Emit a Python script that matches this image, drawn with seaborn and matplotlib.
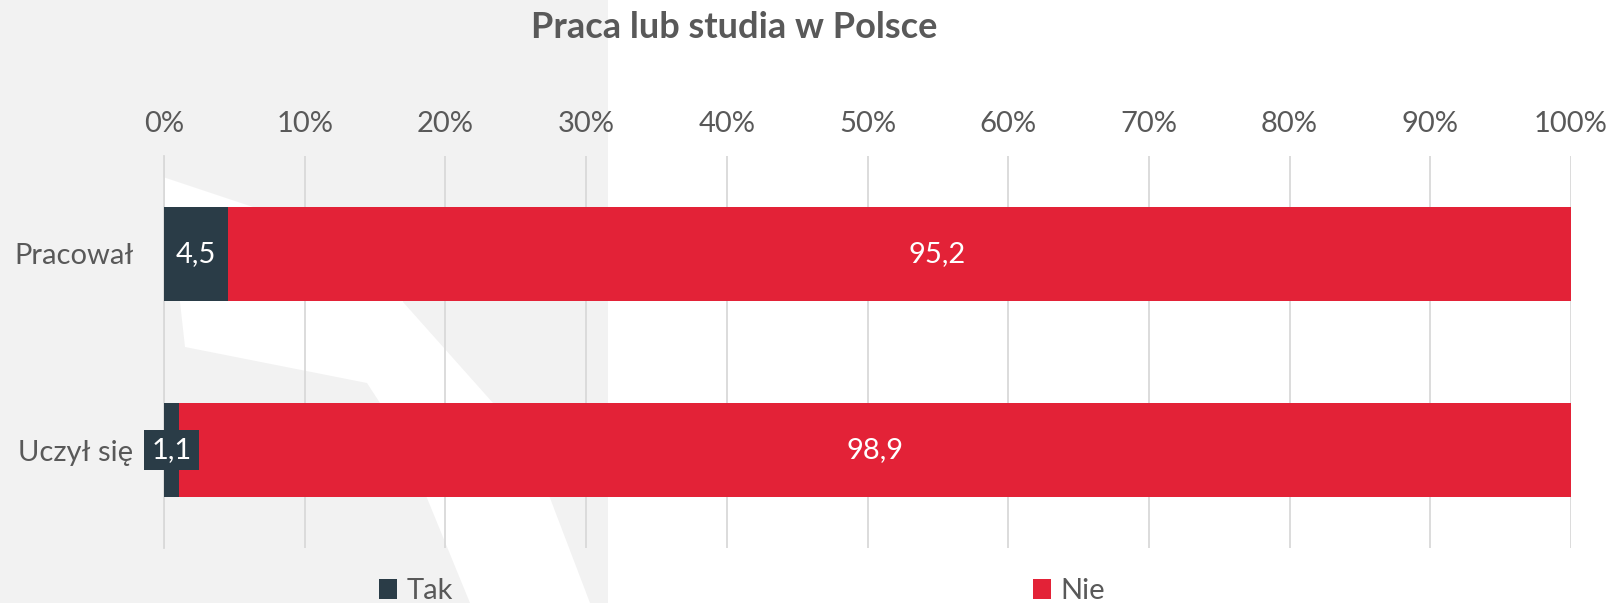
import numpy as np
import pandas as pd
import seaborn as sns
import matplotlib
matplotlib.use("Agg")
import matplotlib.pyplot as plt
from matplotlib.patches import Polygon, Rectangle, Patch

# ---- data ----
categories = ["Pracował", "Uczył się"]
tak_values = [4.5, 1.1]
nie_values = [95.2, 98.9]
series_names = ["Tak", "Nie"]
xtick_values = [0, 10, 20, 30, 40, 50, 60, 70, 80, 90, 100]
xtick_labels = ["0%", "10%", "20%", "30%", "40%", "50%", "60%", "70%", "80%", "90%", "100%"]
title = "Praca lub studia w Polsce"

# ---- styling ----
DARK = "#2A3C47"
RED = "#E32237"
TEXT = "#595959"
GRID = "#D9D9D9"
BG_GREY = "#F2F2F2"
FS = 21

W, H = 1607, 603

sns.set_theme(style="white")
plt.rcParams['font.family'] = ['Lato', 'DejaVu Sans']

tak = np.array(tak_values)
nie = np.array(nie_values)
total = tak + nie
tak_pct = tak / total * 100
nie_pct = nie / total * 100

df = pd.DataFrame({"cat": categories, "tak": tak_pct, "full": tak_pct + nie_pct})

fig = plt.figure(figsize=(W / 100, H / 100), dpi=100, facecolor="white")

def fx(px):
    return px / W

def fy(py):
    return 1 - py / H

# background watermark decoration
grey = Rectangle((0, 0), fx(608), 1, transform=fig.transFigure, facecolor=BG_GREY,
                 edgecolor="none", zorder=-2)
fig.add_artist(grey)
white_pts = [(163, 177), (403, 257), (403, 302), (493, 403), (550, 498), (590, 603),
             (470, 603), (427, 498), (380, 403), (367, 383), (185, 347), (180, 302),
             (163, 200)]
white_poly = Polygon([(fx(x), fy(y)) for x, y in white_pts], closed=True,
                     transform=fig.transFigure, facecolor="white", edgecolor="none",
                     zorder=-1)
fig.add_artist(white_poly)

ax = fig.add_axes([fx(164), fy(548), fx(1571 - 164), (548 - 156) / H])
ax.set_facecolor("none")

sns.barplot(data=df, y="cat", x="full", color=RED, width=0.48, saturation=1,
            edgecolor="none", linewidth=0, ax=ax, zorder=3)
sns.barplot(data=df, y="cat", x="tak", color=DARK, width=0.48, saturation=1,
            edgecolor="none", linewidth=0, ax=ax, zorder=3)

ax.set_xlim(0, 100)
ax.set_ylim(1.5, -0.5)
ax.set_xlabel("")
ax.set_ylabel("")

ax.xaxis.tick_top()
ax.set_xticks(xtick_values)
ax.set_xticklabels(xtick_labels)
ax.tick_params(axis="x", length=0, pad=14, labelsize=FS, labelcolor=TEXT)
ax.xaxis.grid(True, color=GRID, linewidth=1.3)
ax.yaxis.grid(False)
ax.set_axisbelow(True)

ax.set_yticks(range(len(categories)))
ax.set_yticklabels(categories)
ax.tick_params(axis="y", which="major", length=0, pad=22, labelsize=FS, labelcolor=TEXT)
ax.set_yticks([-0.5, 0.5, 1.5], minor=True)
ax.tick_params(axis="y", which="minor", length=6.5, width=1.3, color=GRID)

for side in ["top", "right", "bottom"]:
    ax.spines[side].set_visible(False)
ax.spines["left"].set_color(GRID)
ax.spines["left"].set_linewidth(1.3)

def fmt(v):
    return f"{v:.1f}".replace(".", ",")

for i in range(len(categories)):
    # Tak label
    kw = dict(ha="center", va="center", color="white", fontsize=FS, zorder=5)
    if tak_pct[i] < 2:
        kw["bbox"] = dict(boxstyle="square,pad=0.25", facecolor=DARK, edgecolor="none")
    ax.text(tak_pct[i] / 2, i, fmt(tak[i]), **kw)
    # Nie label
    nudge = 27 if i == 0 else 0
    ax.annotate(fmt(nie[i]), xy=(tak_pct[i] + nie_pct[i] / 2, i), xytext=(nudge, 0),
                textcoords="offset points", ha="center", va="center",
                color="white", fontsize=FS, zorder=5)

fig.text(fx(734), fy(27), title, ha="center", va="center", fontsize=26,
         fontweight="bold", color=TEXT)

handles = [Patch(facecolor=DARK, edgecolor="none"), Patch(facecolor=RED, edgecolor="none")]
fig.legend(handles, series_names, loc="center", bbox_to_anchor=(fx(742), fy(591)),
           ncol=2, frameon=False, fontsize=FS, labelcolor=TEXT,
           handlelength=0.62, handleheight=0.66, handletextpad=0.33,
           columnspacing=19.9, borderaxespad=0, borderpad=0)

fig.savefig("out.png", dpi=100, facecolor="white")
